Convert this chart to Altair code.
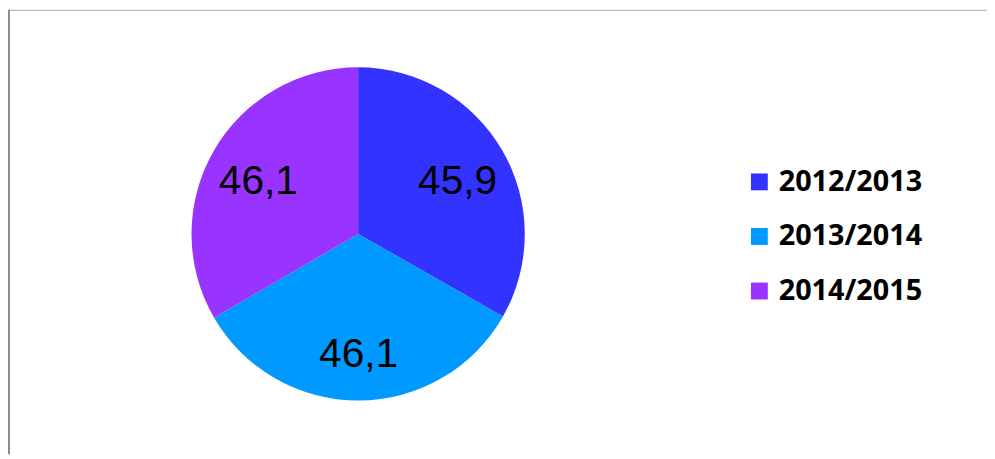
import altair as alt
import pandas as pd

seasons = ["2012/2013", "2013/2014", "2014/2015"]
values = [45.9, 46.1, 46.1]
labels = ["45,9", "46,1", "46,1"]
colors = ["#3333FF", "#0099FF", "#9933FF"]

df = pd.DataFrame({"season": seasons, "value": values, "label": labels, "order": [0, 1, 2]})

W, H = 987, 448
CX, CY, R = 353, 226, 168

base = alt.Chart(df).encode(
    theta=alt.Theta("value:Q", stack=True),
    order=alt.Order("order:Q"),
)

pie = base.mark_arc(outerRadius=R, stroke=None).encode(
    x=alt.value(CX),
    y=alt.value(CY),
    color=alt.Color(
        "season:N",
        scale=alt.Scale(domain=seasons, range=colors),
        legend=alt.Legend(
            title=None,
            orient="none",
            legendX=743,
            legendY=159,
            symbolType="square",
            symbolSize=289,
            symbolStrokeWidth=0,
            labelFont="Open Sans",
            labelFontWeight="bold",
            labelFontSize=29,
            labelColor="#000000",
            labelOffset=5,
            rowPadding=25,
            labelLimit=300,
        ),
    ),
)

text = base.mark_text(
    radius=116, dy=6, font="Liberation Sans", fontSize=41, color="#000000",
    align="center", baseline="middle",
).encode(
    x=alt.value(CX),
    y=alt.value(CY),
    text="label:N",
)

border_df = pd.DataFrame({"k": [0]})
top_line = alt.Chart(border_df).mark_rule(color="#A6A6A6", strokeWidth=1).encode(
    x=alt.value(0), x2=alt.value(W), y=alt.value(0.5)
)
left_line = alt.Chart(border_df).mark_rule(color="#8C8C8C", strokeWidth=2).encode(
    x=alt.value(1), y=alt.value(0), y2=alt.value(H)
)

chart = alt.layer(pie, text, top_line, left_line).properties(
    width=W, height=H,
    autosize=alt.AutoSizeParams(type="none"),
    padding=0,
    background="white",
).configure_view(stroke=None)

chart.save("out.html", embed_options={"renderer": "svg", "actions": False})
